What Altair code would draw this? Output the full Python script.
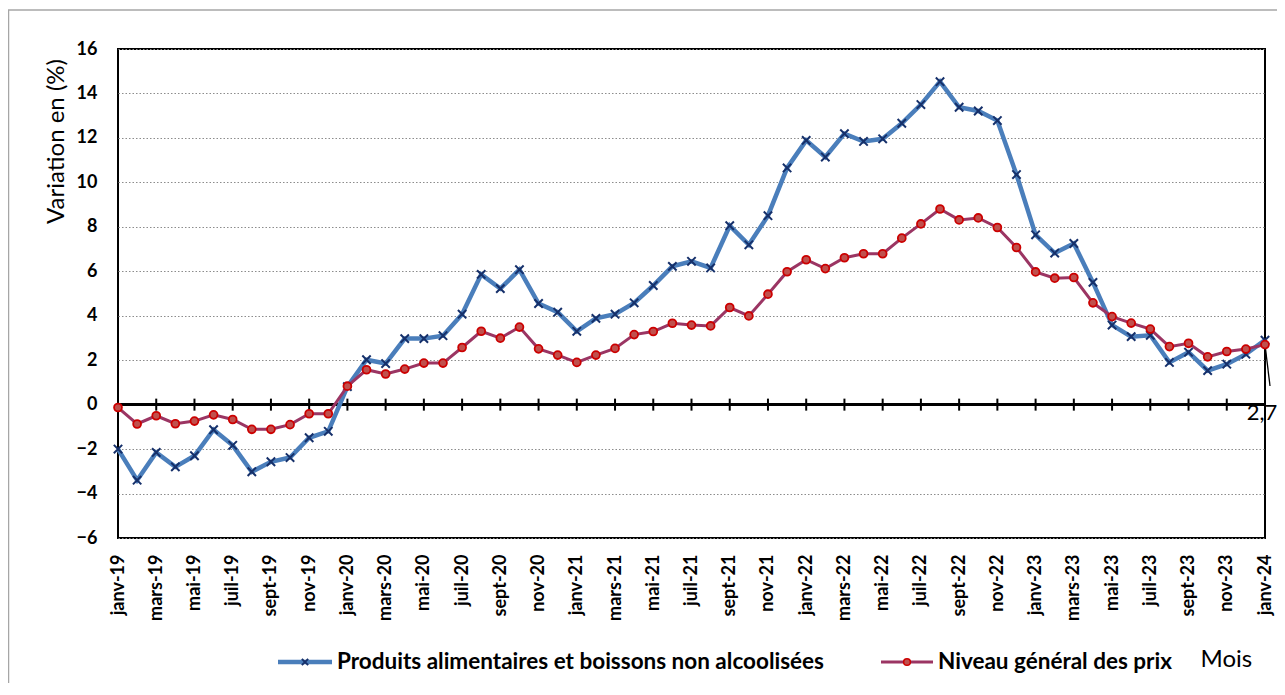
import altair as alt
import pandas as pd

months = [
    "janv-19", "févr-19", "mars-19", "avr-19", "mai-19", "juin-19", "juil-19", "août-19", "sept-19", "oct-19", "nov-19", "déc-19",
    "janv-20", "févr-20", "mars-20", "avr-20", "mai-20", "juin-20", "juil-20", "août-20", "sept-20", "oct-20", "nov-20", "déc-20",
    "janv-21", "févr-21", "mars-21", "avr-21", "mai-21", "juin-21", "juil-21", "août-21", "sept-21", "oct-21", "nov-21", "déc-21",
    "janv-22", "févr-22", "mars-22", "avr-22", "mai-22", "juin-22", "juil-22", "août-22", "sept-22", "oct-22", "nov-22", "déc-22",
    "janv-23", "févr-23", "mars-23", "avr-23", "mai-23", "juin-23", "juil-23", "août-23", "sept-23", "oct-23", "nov-23", "déc-23",
    "janv-24",
]

food = [
    -2.0, -3.4, -2.15, -2.8, -2.3, -1.13, -1.83, -3.02, -2.57, -2.38, -1.49, -1.2,
    0.81, 2.02, 1.85, 2.97, 2.97, 3.1, 4.07, 5.86, 5.22, 6.07, 4.55, 4.16,
    3.3, 3.88, 4.07, 4.58, 5.36, 6.22, 6.45, 6.15, 8.05, 7.19, 8.5, 10.65,
    11.89, 11.14, 12.19, 11.84, 11.96, 12.66, 13.5, 14.53, 13.38, 13.21, 12.78, 10.35,
    7.64, 6.82, 7.25, 5.5, 3.58, 3.06, 3.12, 1.9, 2.36, 1.53, 1.82, 2.27,
    2.9,
]

general = [
    -0.13, -0.87, -0.5, -0.86, -0.74, -0.46, -0.67, -1.11, -1.11, -0.9, -0.41, -0.41,
    0.83, 1.57, 1.38, 1.6, 1.87, 1.87, 2.57, 3.3, 2.99, 3.49, 2.51, 2.23,
    1.9, 2.23, 2.53, 3.15, 3.29, 3.66, 3.58, 3.54, 4.37, 3.99, 4.97, 5.98,
    6.52, 6.12, 6.61, 6.79, 6.79, 7.49, 8.13, 8.8, 8.31, 8.4, 7.97, 7.07,
    5.97, 5.69, 5.72, 4.58, 3.96, 3.67, 3.4, 2.61, 2.76, 2.15, 2.39, 2.5,
    2.7,
]

y_ticks = [-6, -4, -2, 0, 2, 4, 6, 8, 10, 12, 14, 16]
label_months = months[::2]

series_food = "Produits alimentaires et boissons non alcoolisées"
series_gen = "Niveau général des prix"
y_title = "Variation en (%)"
x_title = "Mois"

df_food = pd.DataFrame({"mois": months, "valeur": food})
df_gen = pd.DataFrame({"mois": months, "valeur": general})
df_ticks = pd.DataFrame({"mois": label_months, "valeur": [0] * len(label_months)})
df_last = pd.DataFrame({
    "mois": [months[-1]],
    "valeur": [general[-1]],
    "label": [f"{general[-1]:.1f}".replace(".", ",")],
})
one = alt.Data(values=[{}])

FONT = "Lato"
BLUE = "#4A7EBB"
NAVY = "#16306A"
MAROON = "#9B3563"
RED_FILL = "#C0504D"
RED_STROKE = "#CC0000"

x_scale = alt.Scale(type="point", domain=months, padding=0)
y_scale = alt.Scale(domain=[-6, 16], nice=False, zero=False)

x_axis = alt.Axis(
    values=label_months, labelAngle=-90, labelFontWeight="bold", labelFontSize=18,
    labelFont=FONT, labelColor="black", labelPadding=16, ticks=False, domain=False,
    grid=False, labelOverlap=False, labelFlush=False,
    title=x_title, titleX=1082, titleY=128, titleAlign="left", titleBaseline="alphabetic",
    titleFontWeight="normal", titleFontSize=24, titleFont=FONT, titleColor="black",
)
y_axis = alt.Axis(
    values=y_ticks, labelFontWeight="bold", labelFontSize=18, labelFont=FONT,
    labelColor="black", labelPadding=21, ticks=False, domain=False,
    grid=True, gridColor="#8c8c8c", gridDash=[1.5, 2], gridWidth=1.2,
    title=y_title, titleX=-62, titleY=92, titleAngle=270, titleAlign="center",
    titleBaseline="middle", titleFontWeight="normal", titleFontSize=24,
    titleFont=FONT, titleColor="black",
)

X = alt.X("mois:N", scale=x_scale, axis=x_axis, sort=months, title=x_title)
Y = alt.Y("valeur:Q", scale=y_scale, axis=y_axis, title=y_title)

frame = alt.Chart(one).mark_rect(fillOpacity=0, stroke="#a6a6a6", strokeWidth=1.5).encode(
    x=alt.value(-109.5), x2=alt.value(1300), y=alt.value(-39), y2=alt.value(800)
)

zero_line = alt.Chart(df_ticks).mark_rule(color="black", strokeWidth=2).encode(y=Y)

ticks = alt.Chart(df_ticks).mark_rule(color="black", strokeWidth=2, yOffset=-6, y2Offset=6).encode(
    x=X, y=Y, y2=alt.Y2("valeur:Q")
)

food_line = alt.Chart(df_food).mark_line(color=BLUE, strokeWidth=4.5).encode(x=X, y=Y)
food_pts = alt.Chart(df_food).mark_point(
    shape="M-1,-1L1,1M-1,1L1,-1", filled=False, color=NAVY, strokeWidth=2, size=70, opacity=1
).encode(x=X, y=Y)

gen_line = alt.Chart(df_gen).mark_line(color=MAROON, strokeWidth=3).encode(x=X, y=Y)
gen_pts = alt.Chart(df_gen).mark_circle(
    fill=RED_FILL, stroke=RED_STROKE, strokeWidth=1.8, size=62, opacity=1
).encode(x=X, y=Y)

leader = alt.Chart(df_last).mark_rule(color="black", strokeWidth=1.3, x2Offset=5).encode(
    x=X, x2=alt.X2("mois:N"), y=Y, y2=alt.Y2(datum=0.84)
)
last_label = alt.Chart(df_last).mark_text(
    font=FONT, fontSize=22, color="black", align="center", baseline="middle", dx=-3, dy=68
).encode(x=X, y=Y, text="label:N")

# legend (drawn below the plot area)
leg_food_line = alt.Chart(one).mark_rule(color=BLUE, strokeWidth=4.5).encode(
    x=alt.value(160), x2=alt.value(214), y=alt.value(613)
)
leg_food_pt = alt.Chart(one).mark_point(
    shape="M-1,-1L1,1M-1,1L1,-1", filled=False, color=NAVY, strokeWidth=2, size=40, opacity=1
).encode(x=alt.value(187), y=alt.value(613))
leg_food_txt = alt.Chart(one).mark_text(
    font=FONT, fontSize=22.5, fontWeight="bold", color="black", align="left", baseline="alphabetic"
).encode(x=alt.value(219), y=alt.value(620), text=alt.value(series_food))

leg_gen_line = alt.Chart(one).mark_rule(color=MAROON, strokeWidth=3).encode(
    x=alt.value(763), x2=alt.value(815), y=alt.value(613)
)
leg_gen_pt = alt.Chart(one).mark_circle(
    fill=RED_FILL, stroke=RED_STROKE, strokeWidth=1.5, size=45, opacity=1
).encode(x=alt.value(789), y=alt.value(613))
leg_gen_txt = alt.Chart(one).mark_text(
    font=FONT, fontSize=22.5, fontWeight="bold", color="black", align="left", baseline="alphabetic"
).encode(x=alt.value(820), y=alt.value(620), text=alt.value(series_gen))

chart = alt.layer(
    frame, zero_line, ticks, food_line, food_pts, gen_line, leader, gen_pts, last_label,
    leg_food_line, leg_food_pt, leg_food_txt, leg_gen_line, leg_gen_pt, leg_gen_txt,
).properties(
    width=1147, height=489,
    padding={"left": 110, "top": 41, "right": 12, "bottom": 145},
    autosize=alt.AutoSizeParams(type="none"),
).configure(
    font=FONT,
).configure_view(
    stroke="black", strokeWidth=2,
)

chart.save("out.html", embed_options={"renderer": "svg", "actions": False})
